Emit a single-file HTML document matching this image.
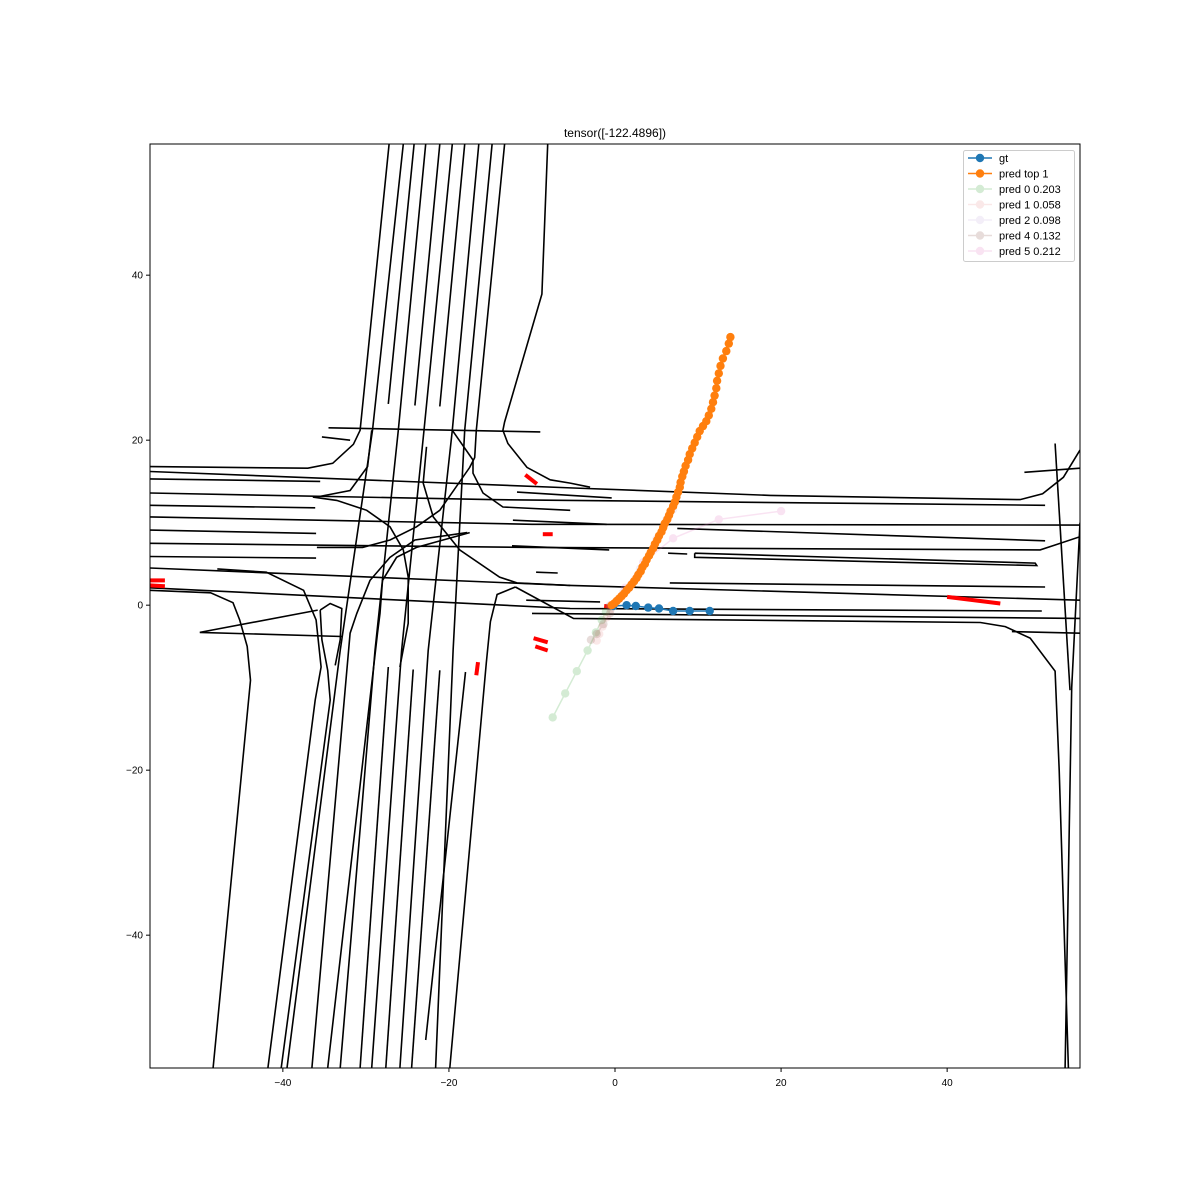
<!DOCTYPE html>
<html><head><meta charset="utf-8">
<style>
html,body{margin:0;padding:0;background:#fff;}
svg{display:block;font-family:"Liberation Sans","DejaVu Sans",sans-serif;}
</style></head>
<body>
<svg id="chart" width="1200" height="1200" viewBox="0 0 1200 1200" xmlns="http://www.w3.org/2000/svg">
<rect x="0" y="0" width="1200" height="1200" fill="#fff"/>
<text x="615" y="137" font-size="12" text-anchor="middle">tensor([-122.4896])</text>
<g id="map"></g>
<g id="reds"></g>
<g id="series"></g>
<g id="axes"></g>
<g id="legend"></g>
</svg>
<script>
const xTicks = [-40, -20, 0, 20, 40];
const yTicks = [-40, -20, 0, 20, 40];
const xDomain = [-56, 56];
const yDomain = [-56.1, 55.9];

const gtX = [-0.2, 1.4, 2.5, 4.0, 5.3, 7.0, 9.0, 11.4];
const gtY = [-0.1, 0.0, -0.1, -0.3, -0.4, -0.7, -0.7, -0.7];

const topX = [-0.4,-0.1,0.2,0.5,0.8,1.1,1.4,1.7,2.0,2.3,2.6,2.8,3.1,3.3,3.6,3.8,4.1,4.3,4.6,4.8,5.1,5.3,5.6,5.8,6.0,6.3,6.5,6.7,7.0,7.2,7.4,7.6,7.8,7.9,8.1,8.3,8.5,8.8,9.0,9.3,9.6,9.9,10.2,10.6,11.0,11.3,11.6,11.8,12.0,12.2,12.3,12.5,12.7,13.0,13.4,13.7,13.9];
const topY = [0.0,0.2,0.5,0.8,1.1,1.4,1.8,2.1,2.5,2.9,3.3,3.7,4.1,4.6,5.0,5.5,6.0,6.4,6.9,7.4,7.9,8.4,8.9,9.4,9.9,10.4,10.9,11.4,12.0,12.5,13.1,13.7,14.3,14.9,15.6,16.2,16.9,17.6,18.3,19.0,19.7,20.4,21.1,21.7,22.3,23.0,23.8,24.6,25.4,26.3,27.2,28.1,29.0,29.9,30.8,31.7,32.5];

const pred0X = [-0.7, -1.1, -1.6, -2.3, -3.3, -4.6, -6.0, -7.5];
const pred0Y = [-0.2, -0.8, -1.8, -3.3, -5.5, -8.0, -10.7, -13.6];
const pred1X = [-0.5, -1.0, -1.5, -1.9, -2.2];
const pred1Y = [-0.5, -1.5, -2.6, -3.5, -4.3];
const pred2X = [-0.3, 1.0, 3.0, 5.0, 6.2, 7.0];
const pred2Y = [0.0, 1.6, 4.4, 8.0, 10.4, 11.6];
const pred4X = [-0.6, -1.4, -2.2, -2.9];
const pred4Y = [-1.0, -2.3, -3.5, -4.2];
const pred5X = [-0.6, 1.2, 3.4, 7.0, 12.5, 20.0];
const pred5Y = [0.0, 2.1, 5.2, 8.1, 10.4, 11.4];

const legendLabels = ["gt", "pred top 1", "pred 0 0.203", "pred 1 0.058", "pred 2 0.098", "pred 4 0.132", "pred 5 0.212"];

// map polylines (data units)
const mapLines = [
 [[-56,16.8],[-37,16.6],[-34,17.2],[-31.5,19.5],[-30.7,21.2],[-27.2,55.9]],
 [[-56,16.2],[-5,14.2],[18.7,13.3],[48.8,12.8],[51.5,13.5],[54,15.5],[56,18.8]],
 [[-56,15.3],[-35.5,15]],
 [[-56,13.6],[-15,12.8],[51.8,12.1]],
 [[-56,12.1],[-36.1,11.8]],
 [[-56,10.7],[-10,9.8],[56,9.7]],
 [[-56,9.1],[-36,8.7]],
 [[-56,7.5],[-10,7],[51.2,6.7],[53,7.3],[56,8.3]],
 [[-56,5.9],[-36,5.7]],
 [[-56,4.5],[-5.4,2.4],[56,0.6]],
 [[-56,1.8],[-48.7,1.5],[-46,0.3],[-45.2,-1.8],[-44.3,-5],[-43.9,-9.1],[-48.4,-56.1]],
 [[-56,2.1],[-5.4,-0.4],[51.4,-0.7]],
 [[-10,-1.0],[56,-1.6]],
 [[-12,2.2],[-5,-1.6],[44,-2.1],[47,-2.6],[50,-4],[53,-8],[53.5,-20],[54.6,-56.1]],
 [[-12,2.2],[-14.2,1.3],[-15,-2],[-15.5,-7],[-19.9,-56.1]],
 [[53,19.6],[54.8,-10.3]],
 [[56,10],[55,-10],[54.2,-56.1]],
 [[49.3,16.1],[56,16.6]],
 [[47.8,-3.2],[56,-3.4]],
 [[9.6,6.3],[50.6,5.1],[50.8,4.8],[9.6,5.8],[9.6,6.3]],
 [[6.6,2.7],[51.8,2.2]],
 [[7.5,9.3],[51.8,7.8]],
 [[6.4,6.3],[8.7,6.2]],
 [[-11.8,13.7],[-0.4,13]],
 [[-12.3,10.3],[-1,9.8]],
 [[-12.4,7.2],[-0.7,6.7]],
 [[-9.5,4],[-6.9,3.9]],
 [[-10.7,0.6],[-1.8,0.4]],
 [[-34.5,21.5],[-9,21]],
 [[-35.3,20.4],[-31.9,20]],
 [[-8.1,55.9],[-8.8,37.7],[-13.3,22.2],[-13.5,21.2],[-12.9,19.6],[-10.6,16.7],[-7.8,15.2],[-5.4,14.8],[-3,14.3]],
 [[-36,13.1],[-31.9,13.9],[-29.8,16.8],[-29.3,21.2]],
 [[-36.4,13.1],[-33.5,12.7],[-29.9,11.5],[-27.1,9.5],[-25.5,6.7],[-24.9,3.4],[-24.9,-2.2],[-25.9,-7.5]],
 [[-35.9,7],[-30.4,7],[-27.1,7.9],[-23.9,9.5],[-21.1,11.5],[-17.5,16.7],[-16.9,17.9],[-16.7,21.2],[-13.3,55.9]],
 [[-22.7,19.2],[-23.1,14.8],[-21.9,10.7],[-18.7,6.7],[-13.9,3.4],[-11.8,2.7],[-5.4,2.4]],
 [[-19.6,21.2],[-17.1,17.6],[-17.1,16],[-15.9,13.6],[-13.5,11.9],[-5.4,11.5]],
 [[-17.8,8.8],[-24.1,7.9],[-27.1,5.8],[-29.5,3],[-31.1,-1],[-31.9,-3.4],[-36.5,-56.1]],
 [[-17.5,8.8],[-23.9,7],[-26.3,5.8],[-28,3],[-28.3,-1],[-28.6,-3.4],[-34.6,-56.1]],
 [[-25.5,55.9],[-29.2,21.2],[-33.1,-5.5],[-39.5,-56.1]],
 [[-22.8,55.9],[-26.1,21.2],[-28.9,-5.5],[-33.1,-56.1]],
 [[-19.6,55.9],[-23,21.2],[-25.7,-5.5],[-29.3,-56.1]],
 [[-16.4,55.9],[-19.6,21.2],[-22.5,-5.5],[-25.9,-56.1]],
 [[-14.8,55.9],[-18.1,21.2],[-19.5,-5.5],[-21.6,-56.1]],
 [[-24.2,55.9],[-27.3,24.4]],
 [[-21.1,55.9],[-24.1,24.2]],
 [[-18.1,55.9],[-21.1,24.1]],
 [[-27.3,-7.5],[-30.7,-56.1]],
 [[-24.3,-7.8],[-27.6,-56.1]],
 [[-21.1,-7.9],[-24.5,-56.1]],
 [[-18,-8.1],[-22.8,-52.7]],
 [[-47.9,4.4],[-42,4],[-37.5,1.8],[-36,-1.8],[-35.4,-7.5],[-36.1,-11.5],[-41.8,-56.1]],
 [[-35.5,-0.6],[-34.3,0.2],[-32.9,-0.4],[-33.1,-4.2],[-33.7,-7.3]],
 [[-35.8,-0.6],[-50,-3.3],[-32.9,-3.8]],
 [[-35.5,-0.6],[-35.3,-4.2],[-34.6,-7.9],[-34.3,-11.5],[-40.2,-56.1]]
];
const redSegs = [
 [[-10.8,15.8],[-9.4,14.7]],
 [[-8.7,8.6],[-7.5,8.6]],
 [[-56,3],[-54.2,3]],
 [[-56,2.4],[-54.2,2.3]],
 [[-9.8,-4],[-8.1,-4.5]],
 [[-9.6,-5],[-8.1,-5.5]],
 [[-16.5,-6.9],[-16.7,-8.5]],
 [[40,1],[46.4,0.2]],
 [[-1.3,-0.1],[-0.4,-0.2]]
];

const PL=150, PR=1080, PT=144, PB=1068;
function sx(v){return PL+(v-xDomain[0])/(xDomain[1]-xDomain[0])*(PR-PL);}
function sy(v){return PB-(v-yDomain[0])/(yDomain[1]-yDomain[0])*(PB-PT);}
const NS="http://www.w3.org/2000/svg";
function mk(tag, parent){const e=document.createElementNS(NS,tag);parent.appendChild(e);return e;}

const clip=mk('clipPath',document.getElementById('chart'));clip.setAttribute('id','pc');
const cr=mk('rect',clip);cr.setAttribute('x',PL);cr.setAttribute('y',PT);cr.setAttribute('width',PR-PL);cr.setAttribute('height',PB-PT);

const mapG=document.getElementById('map');mapG.setAttribute('clip-path','url(#pc)');
mapLines.forEach(l=>{
  const p=mk('polyline',mapG);
  
  
  p.setAttribute('points',l.map(q=>sx(q[0]).toFixed(1)+','+sy(q[1]).toFixed(1)).join(' '));
  p.setAttribute('fill','none');p.setAttribute('stroke','#000');p.setAttribute('stroke-width','1.6');
});
const redG=document.getElementById('reds');redG.setAttribute('clip-path','url(#pc)');
redSegs.forEach(l=>{
  const p=mk('polyline',redG);
  
  
  p.setAttribute('points',l.map(q=>sx(q[0]).toFixed(1)+','+sy(q[1]).toFixed(1)).join(' '));
  p.setAttribute('fill','none');p.setAttribute('stroke','#ff0000');p.setAttribute('stroke-width','4');
});

const seriesG=document.getElementById('series');seriesG.setAttribute('clip-path','url(#pc)');
function drawSeries(xs,ys,color,alpha,name){
  const g=mk('g',seriesG);
  
  
  g.setAttribute('opacity',alpha);
  const p=mk('polyline',g);
  
  
  p.setAttribute('points',xs.map((x,i)=>sx(x).toFixed(1)+','+sy(ys[i]).toFixed(1)).join(' '));
  p.setAttribute('fill','none');p.setAttribute('stroke',color);p.setAttribute('stroke-width','1.5');
  xs.forEach((x,i)=>{
    const c=mk('circle',g);
    
    
    c.setAttribute('cx',sx(x).toFixed(1));c.setAttribute('cy',sy(ys[i]).toFixed(1));
    c.setAttribute('r','4.2');c.setAttribute('fill',color);
  });
}
drawSeries(pred0X,pred0Y,'#2ca02c',0.2,'pred-0');
drawSeries(pred1X,pred1Y,'#d62728',0.1,'pred-1');
drawSeries(pred2X,pred2Y,'#9467bd',0.1,'pred-2');
drawSeries(pred4X,pred4Y,'#8c564b',0.2,'pred-4');
drawSeries(pred5X,pred5Y,'#e377c2',0.2,'pred-5');
drawSeries(gtX,gtY,'#1f77b4',1,'gt');
drawSeries(topX,topY,'#ff7f0e',1,'pred-top-1');

const ax=document.getElementById('axes');
const fr=mk('rect',ax);


fr.setAttribute('x',PL);fr.setAttribute('y',PT);fr.setAttribute('width',PR-PL);fr.setAttribute('height',PB-PT);
fr.setAttribute('fill','none');fr.setAttribute('stroke','#000');fr.setAttribute('stroke-width','1');
function lab(v){return v<0?'\u2212'+Math.abs(v):String(v);}
xTicks.forEach(v=>{
  const t=mk('line',ax);
  
  
  t.setAttribute('x1',sx(v));t.setAttribute('x2',sx(v));t.setAttribute('y1',PB);t.setAttribute('y2',PB+4);t.setAttribute('stroke','#000');
  const tx=mk('text',ax);
  
  
  tx.setAttribute('x',sx(v));tx.setAttribute('y',PB+18);tx.setAttribute('font-size','10');tx.setAttribute('text-anchor','middle');
  tx.textContent=lab(v);
});
yTicks.forEach(v=>{
  const t=mk('line',ax);
  
  
  t.setAttribute('x1',PL-4);t.setAttribute('x2',PL);t.setAttribute('y1',sy(v));t.setAttribute('y2',sy(v));t.setAttribute('stroke','#000');
  const tx=mk('text',ax);
  
  
  tx.setAttribute('x',PL-7);tx.setAttribute('y',sy(v)+3.5);tx.setAttribute('font-size','10');tx.setAttribute('text-anchor','end');
  tx.textContent=lab(v);
});

const lg=document.getElementById('legend');
const lb=mk('rect',lg);


lb.setAttribute('x',963.5);lb.setAttribute('y',150.5);lb.setAttribute('width',111);lb.setAttribute('height',111);lb.setAttribute('rx',2);
lb.setAttribute('fill','#fff');lb.setAttribute('fill-opacity','0.8');lb.setAttribute('stroke','#ccc');
const legColors=['#1f77b4','#ff7f0e','#2ca02c','#d62728','#9467bd','#8c564b','#e377c2'];
const legAlpha=[1,1,0.2,0.1,0.1,0.2,0.2];
legendLabels.forEach((s,i)=>{
  const y=158+i*15.5;
  const g=mk('g',lg);
  
  
  const mg=mk('g',g);mg.setAttribute('opacity',legAlpha[i]);
  const l=mk('line',mg);
  
  
  l.setAttribute('x1',968);l.setAttribute('x2',992);l.setAttribute('y1',y);l.setAttribute('y2',y);l.setAttribute('stroke',legColors[i]);l.setAttribute('stroke-width','1.5');
  const c=mk('circle',mg);
  
  
  c.setAttribute('cx',980);c.setAttribute('cy',y);c.setAttribute('r',4.2);c.setAttribute('fill',legColors[i]);
  const t=mk('text',g);
  
  
  t.setAttribute('x',999);t.setAttribute('y',y+3.8);t.setAttribute('font-size','11');
  t.textContent=s;
});
</script>
</body></html>
